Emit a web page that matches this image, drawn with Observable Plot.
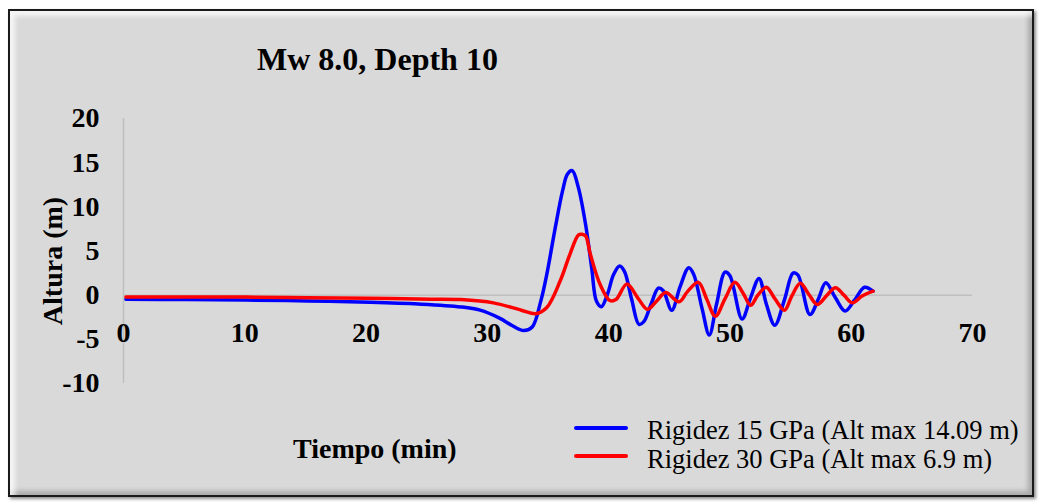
<!DOCTYPE html>
<html>
<head>
<meta charset="utf-8">
<script src="https://cdn.jsdelivr.net/npm/d3@7"></script>
<script src="https://cdn.jsdelivr.net/npm/@observablehq/plot@0.6"></script>
<style>
  html, body { margin: 0; padding: 0; background: #ffffff; }
  body { width: 1039px; height: 502px; position: relative; overflow: hidden;
         font-family: "Liberation Serif", "Times New Roman", serif; }
  #frame { position: absolute; left: 8px; top: 9px; width: 1022px; height: 484px;
           background: #d9d9d9; border: 2px solid #1a1a1a;
           box-shadow: inset 7px 7px 5px -2px rgba(255,255,255,0.75),
                       inset -6px -6px 5px -2px rgba(0,0,0,0.22),
                       2px 2px 3px rgba(0,0,0,0.45); }
  #chart { position: absolute; left: 0; top: 0; }
  .t { position: absolute; white-space: nowrap; line-height: 1; color: #000; }
  .legline { position: absolute; height: 4px; border-radius: 2px; width: 54px; left: 574px; }
</style>
</head>
<body>
<div id="frame"></div>
<div id="chart"></div>
<div class="t" style="left:257px; top:43px; font-size:32px; font-weight:bold;">Mw 8.0, Depth 10</div>
<div class="t" style="left:53px; top:261px; font-size:28px; font-weight:bold; transform: translate(-50%,-50%) rotate(-90deg);">Altura (m)</div>
<div class="t" style="left:293px; top:435px; font-size:28px; font-weight:bold;">Tiempo (min)</div>
<div class="legline" style="top:426px; background:#0000ff;"></div>
<div class="legline" style="top:454px; background:#ff0000;"></div>
<div class="t" style="left:647px; top:417px; font-size:26.5px;">Rigidez 15 GPa (Alt max 14.09 m)</div>
<div class="t" style="left:647px; top:446px; font-size:26.5px;">Rigidez 30 GPa (Alt max 6.9 m)</div>
<script>
const seriesNames = ["Rigidez 15 GPa (Alt max 14.09 m)", "Rigidez 30 GPa (Alt max 6.9 m)"];
const seriesColors = ["#0000ff", "#ff0000"];

const tBlue = [0.2, 5.1, 10.1, 15.2, 20.3, 24.3, 27.8, 29.4, 31.0, 32.0, 33.0, 33.7, 34.4, 34.9, 35.6, 36.2, 36.6, 37.0, 37.5, 38.1, 38.6, 39.0, 39.4, 39.9, 40.4, 40.9, 41.3, 41.9, 42.5, 42.9, 43.5, 44.1, 44.5, 45.2, 45.9, 46.6, 47.0, 47.7, 48.3, 48.9, 49.6, 50.0, 51.0, 51.7, 52.4, 53.0, 53.7, 54.5, 55.2, 55.6, 56.6, 57.3, 57.9, 58.7, 59.5, 60.3, 61.1, 61.8];
const vBlue = [-0.45, -0.5, -0.55, -0.65, -0.8, -1.0, -1.33, -1.7, -2.6, -3.4, -4.0, -3.6, -0.7, 2.35, 7.65, 11.8, 13.7, 14.09, 12.2, 8.0, 3.1, -0.7, -1.3, 0.1, 2.3, 3.3, 2.7, -0.5, -3.3, -3.0, -1.0, 0.8, 0.5, -1.7, 1.0, 3.1, 2.4, -1.5, -4.5, -1.0, 2.6, 2.2, -2.7, -0.3, 1.9, -1.0, -3.4, -0.5, 2.5, 2.3, -2.2, -0.4, 1.4, -0.3, -1.8, -0.5, 0.9, 0.45];

const tRed = [0.2, 5.1, 10.1, 15.2, 20.3, 25.4, 27.8, 30.5, 32.8, 34.0, 34.9, 36.0, 36.8, 37.5, 37.8, 38.1, 38.5, 39.3, 40.1, 40.6, 41.5, 42.4, 43.2, 44.0, 44.7, 45.8, 46.5, 47.4, 48.1, 48.8, 49.6, 50.4, 51.1, 51.7, 52.3, 53.0, 53.7, 54.5, 55.1, 55.8, 56.5, 57.2, 58.0, 58.7, 59.4, 60.1, 60.9, 61.8];
const vRed = [-0.2, -0.2, -0.22, -0.28, -0.35, -0.45, -0.5, -0.87, -1.7, -2.1, -1.4, 1.6, 4.6, 6.8, 6.9, 6.7, 4.6, 1.2, -0.6, -0.5, 1.25, -0.3, -1.6, -0.6, 0.3, -0.75, 0.4, 1.45, -0.5, -2.4, -0.4, 1.45, 0.2, -1.15, 0.0, 0.9, -0.4, -1.7, -0.1, 1.35, 0.1, -1.06, 0.0, 0.85, 0.0, -0.87, -0.1, 0.45];

const xTicks = [0, 10, 20, 30, 40, 50, 60, 70];
const yTicks = [-10, -5, 0, 5, 10, 15, 20];

const blue = tBlue.map((t, i) => ({t, v: vBlue[i], s: seriesNames[0]}));
const red = tRed.map((t, i) => ({t, v: vRed[i], s: seriesNames[1]}));

const font = "'Liberation Serif', 'Times New Roman', serif";

const chart = Plot.plot({
  width: 1039,
  height: 502,
  marginLeft: 123,
  marginRight: 67,
  marginTop: 118,
  marginBottom: 119,
  style: { background: "transparent", overflow: "visible", fontFamily: font },
  x: { domain: [0, 70], axis: null },
  y: { domain: [-10, 20], axis: null },
  marks: [
    Plot.ruleX([0], { y1: -10, y2: 20, stroke: "#bfbfbf", strokeWidth: 1.5 }),
    Plot.ruleY([0], { x1: 0, x2: 70, stroke: "#bfbfbf", strokeWidth: 1.5 }),
    Plot.line(blue, { x: "t", y: "v", stroke: seriesColors[0], strokeWidth: 3.5, curve: "catmull-rom" }),
    Plot.line(red, { x: "t", y: "v", stroke: seriesColors[1], strokeWidth: 3.5, curve: "catmull-rom" }),
    Plot.text(xTicks, { x: d => d, y: 0, dy: 38, text: d => String(d), fontSize: 28, fontWeight: "bold", fill: "#000", textAnchor: "middle" }),
    Plot.text(yTicks, { x: 0, y: d => d, dx: -24, text: d => String(d), fontSize: 28, fontWeight: "bold", fill: "#000", textAnchor: "end" })
  ]
});
document.getElementById("chart").appendChild(chart);
</script>
</body>
</html>
